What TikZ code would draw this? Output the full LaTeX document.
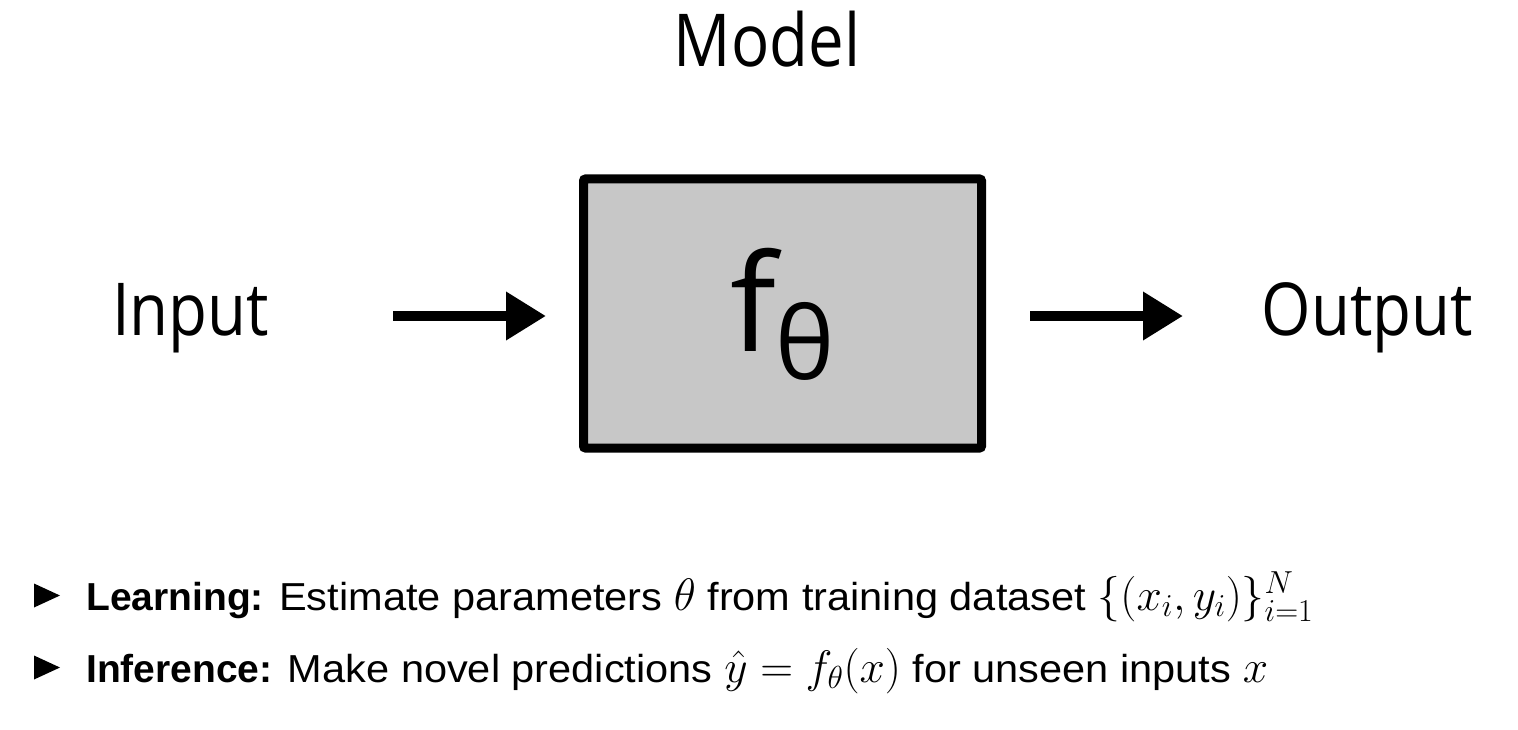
\RequirePackage{fix-cm}
\documentclass[tikz,border=0pt]{standalone}
\usepackage{fontspec}
\setmainfont{Liberation Sans}[UprightFeatures={FakeStretch=1.065}]
\newfontfamily\diafont{Open Sans}
\usetikzlibrary{arrows.meta}
\definecolor{boxgray}{HTML}{C7C7C7}
\newcommand{\narrow}[1]{\scalebox{0.87}[1]{#1}}
\newcommand{\bm}[1]{{\fontsize{45.5}{50}\selectfont$#1$}}
\tikzset{
  bigtext/.style={inner sep=0pt, font=\diafont\fontsize{73}{80}\selectfont},
  modelbox/.style={draw=black, line width=9pt, fill=boxgray, rounded corners=2pt,
    minimum width=398pt, minimum height=269pt, inner sep=0pt},
  flowarrow/.style={line width=10pt, -{Triangle[length=40pt,width=46pt]}},
  bullettext/.style={inner sep=0pt, anchor=base west, font=\fontsize{39}{46}\selectfont},
}
\begin{document}
\begin{tikzpicture}[x=1pt,y=-1pt]
\useasboundingbox (0,0) rectangle (1518,730);
\node[bigtext, anchor=base] (title) at (767,67) {\narrow{Model}};
\node[modelbox] (model) at (782.5,313.5) {};
\node[inner sep=0pt, anchor=base west] (f) at (730,351)
  {\diafont\fontsize{135}{140}\selectfont f\raisebox{-28pt}{\fontsize{100}{100}\selectfont θ}};
\node[bigtext, anchor=base west] (in) at (112,335) {\narrow{Input}};
\node[bigtext, anchor=base east] (out) at (1473,335) {\narrow{Output}};
\draw[flowarrow] ([xshift=-186pt,yshift=-2.5pt]model.west) -- ([xshift=-33pt,yshift=-2.5pt]model.west);
\draw[flowarrow] ([xshift=44pt,yshift=-2.5pt]model.east) -- ([xshift=197pt,yshift=-2.5pt]model.east);
\fill (34,583.5) -- (60,595.5) -- (34,607.5) -- cycle;
\fill (34,655.5) -- (60,667.5) -- (34,679.5) -- cycle;
\node[bullettext] (learn) at (86,610) {\textbf{Learning:} Estimate parameters \bm{\theta} from training dataset \bm{\{(x_i,y_i)\}_{i=1}^N}};
\node[bullettext] (infer) at (86,682) {\textbf{Inference:} Make novel predictions \bm{\hat{y}=f_\theta(x)} for unseen inputs \bm{x}};
\end{tikzpicture}
\end{document}
